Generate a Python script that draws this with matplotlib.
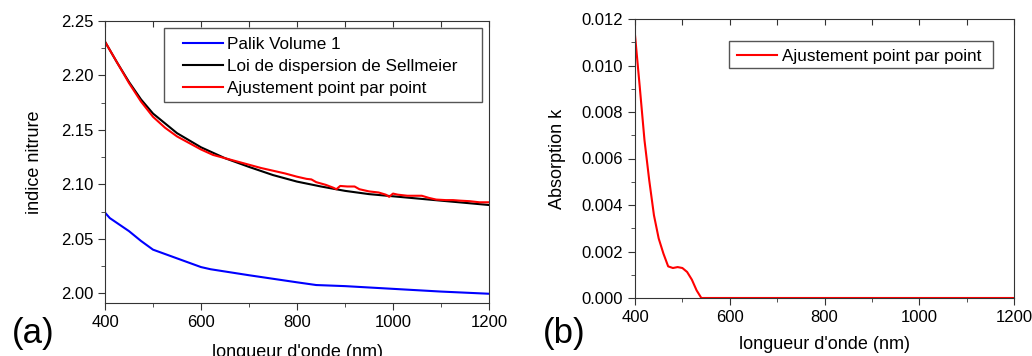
import matplotlib.pyplot as plt
from matplotlib.ticker import MultipleLocator
from matplotlib.patches import Rectangle

plt.rcParams['font.family'] = ['Liberation Sans', 'DejaVu Sans']
plt.rcParams['font.size'] = 12

# panel (a): refractive index
wl_palik = [400, 410, 420, 450, 475, 500, 550, 600, 620, 700, 800, 840, 900, 1000, 1100, 1200]
n_palik = [2.074, 2.069, 2.066, 2.057, 2.048, 2.040, 2.032, 2.024, 2.022, 2.0165, 2.010, 2.0075,
           2.0065, 2.004, 2.0015, 1.9995]

wl_sell = [400, 425, 450, 475, 500, 550, 600, 650, 700, 750, 800, 850, 900, 950, 1000,
           1050, 1100, 1150, 1200]
n_sell = [2.231, 2.212, 2.194, 2.178, 2.165, 2.147, 2.134, 2.124, 2.116, 2.1085, 2.1025, 2.098,
          2.094, 2.091, 2.089, 2.087, 2.085, 2.083, 2.081]

wl_fit = [400, 425, 450, 475, 500, 525, 550, 575, 600, 625, 650, 675, 700, 725, 750, 775, 800,
          820, 830, 840, 860, 875, 882, 890, 905, 920, 930, 950, 970, 985, 992, 1000, 1010,
          1030, 1060, 1075, 1090, 1110, 1125, 1140, 1160, 1180, 1200]
n_fit = [2.231, 2.212, 2.193, 2.176, 2.162, 2.152, 2.144, 2.138, 2.132, 2.127, 2.124, 2.121,
         2.118, 2.115, 2.1125, 2.110, 2.107, 2.105, 2.1045, 2.102, 2.0995, 2.097, 2.0955,
         2.0985, 2.098, 2.098, 2.0955, 2.0935, 2.0925, 2.0905, 2.0885, 2.0915, 2.0905, 2.0895,
         2.0895, 2.0875, 2.086, 2.0855, 2.0855, 2.085, 2.0845, 2.0835, 2.0835]

# panel (b): absorption
wl_k = [400, 410, 420, 430, 440, 450, 460, 470, 480, 490, 500, 510, 520, 530, 540, 600,
        800, 1000, 1200]
k_fit = [0.01131, 0.00909, 0.00679, 0.00507, 0.00356, 0.00256, 0.00191, 0.00136, 0.00129,
         0.00133, 0.00129, 0.00112, 0.00079, 0.00033, 0.0, 0.0, 0.0, 0.0, 0.0]

spine_col = '#333333'
frame_col = '#555555'

fig = plt.figure(figsize=(10.32, 3.56), dpi=100)
ax1 = fig.add_axes([105 / 1032, 1 - 303 / 356, 384 / 1032, 282 / 356])
ax2 = fig.add_axes([635 / 1032, 1 - 298 / 356, 379 / 1032, 279 / 356])


def style(ax):
    for s in ax.spines.values():
        s.set_color(spine_col)
    ax.tick_params(which='both', direction='out', color=spine_col, labelsize=12)
    ax.tick_params(which='major', length=5)
    ax.tick_params(which='minor', length=3)
    ax.xaxis.set_major_locator(MultipleLocator(200))
    ax.xaxis.set_minor_locator(MultipleLocator(100))
    ax.set_xlim(400, 1200)
    # inward ticks on top spine
    top = ax.secondary_xaxis('top')
    top.set_xticks(range(400, 1201, 100))
    top.tick_params(direction='in', length=4, color=spine_col, labeltop=False)
    top.spines['top'].set_visible(False)


def legend_box(ax, x0, y0, x1, y1):
    ax.add_patch(Rectangle((x0, y0), x1 - x0, y1 - y0, transform=ax.transAxes, fill=False,
                           edgecolor=frame_col, lw=1.0, zorder=5))


style(ax1)
ax1.plot(wl_palik, n_palik, color='#0000ff', lw=1.5, label='Palik Volume 1')
ax1.plot(wl_sell, n_sell, color='black', lw=1.5, label='Loi de dispersion de Sellmeier')
ax1.plot(wl_fit, n_fit, color='#ff0000', lw=1.5, label='Ajustement point par point')
ax1.set_ylim(1.991, 2.25)
ax1.yaxis.set_major_locator(MultipleLocator(0.05))
ax1.yaxis.set_minor_locator(MultipleLocator(0.025))
ax1.yaxis.set_major_formatter(plt.FormatStrFormatter('%.2f'))
ax1.set_ylabel('indice nitrure', fontsize=13, labelpad=13)
ax1.set_xlabel("longueur d'onde (nm)", fontsize=13, labelpad=10)
ax1.legend(loc='upper left', bbox_to_anchor=(0.203, 0.943), frameon=False, borderpad=0,
           borderaxespad=0, handlelength=2.35, handletextpad=0.25, labelspacing=0.42,
           fontsize=12.3)
legend_box(ax1, 0.154, 0.713, 0.982, 0.975)

style(ax2)
ax2.plot(wl_k, k_fit, color='#ff0000', lw=1.5, label='Ajustement point par point')
ax2.set_ylim(0, 0.012)
ax2.yaxis.set_major_locator(MultipleLocator(0.002))
ax2.yaxis.set_minor_locator(MultipleLocator(0.001))
ax2.yaxis.set_major_formatter(plt.FormatStrFormatter('%.3f'))
ax2.set_ylabel('Absorption k', fontsize=13, labelpad=11)
ax2.set_xlabel("longueur d'onde (nm)", fontsize=13, labelpad=8)
ax2.legend(loc='upper left', bbox_to_anchor=(0.269, 0.892), frameon=False, borderpad=0,
           borderaxespad=0, handlelength=2.35, handletextpad=0.3, fontsize=12.3)
legend_box(ax2, 0.248, 0.824, 0.945, 0.921)

fig.text(12 / 1032, 1 - 334 / 356, '(a)', fontsize=25, va='center', ha='left')
fig.text(543 / 1032, 1 - 334 / 356, '(b)', fontsize=25, va='center', ha='left')

fig.savefig('out.png', dpi=100)
